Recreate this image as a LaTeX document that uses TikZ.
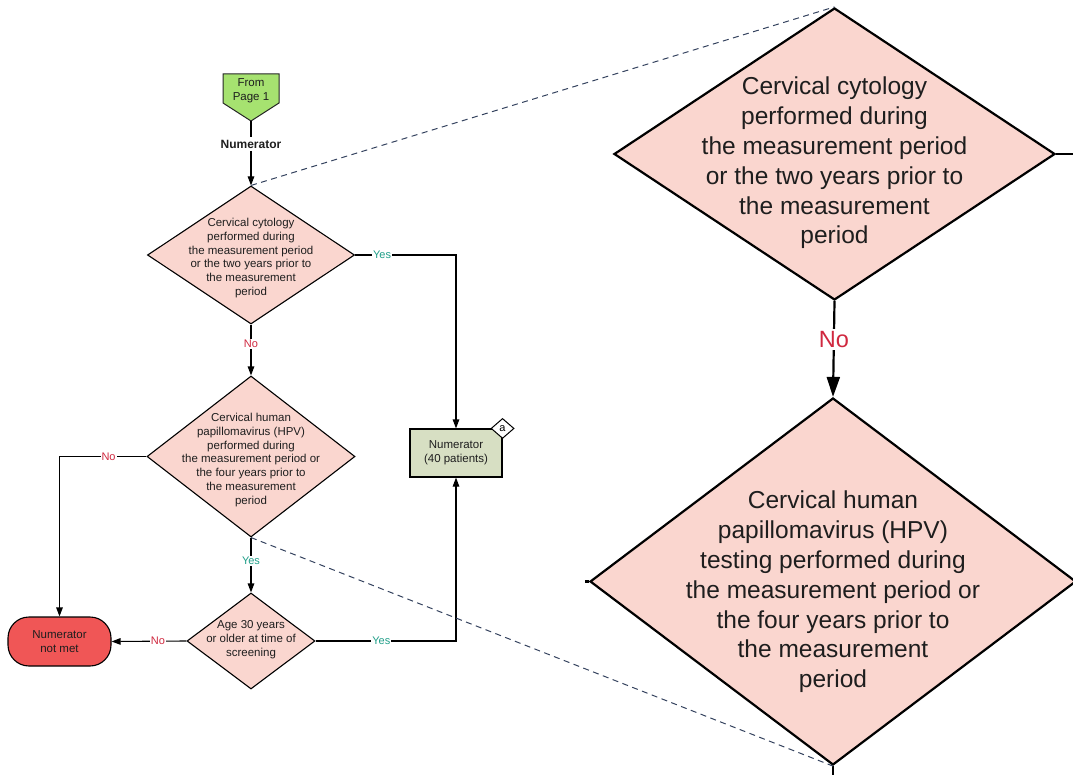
\documentclass[tikz,border=0pt]{standalone}
\usepackage{fontspec}
\setmainfont{Liberation Sans}
\usetikzlibrary{shapes.geometric,arrows.meta}

\definecolor{decfill}{HTML}{FAD6CF}
\definecolor{startgreen}{HTML}{A6E270}
\definecolor{numgreen}{HTML}{D7DFC3}
\definecolor{stopred}{HTML}{F05656}
\definecolor{yescol}{HTML}{1F9E88}
\definecolor{nocol}{HTML}{D0283F}
\definecolor{zoomline}{HTML}{34425E}
\definecolor{inktext}{HTML}{1E1E1E}

\tikzset{
  decision/.style={diamond, draw=black, fill=decfill, line width=1.1pt, inner sep=0pt},
  bigdecision/.style={diamond, draw=black, fill=decfill, line width=2.2pt, inner sep=0pt},
  smalltext/.style={font=\fontsize{11.5}{13.9}\selectfont, align=center, inner sep=0pt, text=inktext},
  bigtext/.style={font=\fontsize{24.5}{29.8}\selectfont, align=center, inner sep=0pt, text=inktext},
  link/.style={line width=1.1pt, draw=black},
  arr/.style={link, -{Triangle[length=9pt,width=6.5pt]}},
  bigarr/.style={line width=2.2pt, draw=black, -{Triangle[length=20pt,width=13pt]}},
  yeslbl/.style={fill=white, text=yescol, font=\fontsize{11}{13}\selectfont, inner sep=1pt},
  nolbl/.style={fill=white, text=nocol, font=\fontsize{11}{13}\selectfont, inner sep=1pt},
  bignolbl/.style={fill=white, text=nocol, font=\fontsize{23.5}{27}\selectfont, inner sep=2pt},
  zoomguide/.style={draw=zoomline, line width=1pt, dash pattern=on 6pt off 4.5pt},
}

\begin{document}
\begin{tikzpicture}[x=1pt, y=-1pt]
\useasboundingbox (0,0) rectangle (1073,775);

% ---------------- compact flow chart ----------------
% off-page connector
\filldraw[fill=startgreen, draw=black!85, line width=1pt]
  (223,74) -- (279,74) -- (279,103) -- (251,121) -- (223,103) -- cycle;
\node[smalltext] (from) at (251,91) {From\\Page 1};
\coordinate (fromtip) at (251,121);

\node[font=\bfseries\fontsize{12}{14}\selectfont, inner sep=2.5pt, text=inktext] (numlbl) at (251,144) {Numerator};

% decisions
\node[decision, minimum width=207pt, minimum height=138pt] (d1) at (251,255) {};
\node[smalltext] (d1t) at (251,258) {Cervical cytology\\performed during\\the measurement period\\or the two years prior to\\the measurement\\period};

\node[decision, minimum width=208pt, minimum height=161pt] (d2) at (251,456.5) {};
\node[smalltext] (d2t) at (251,460) {Cervical human\\papillomavirus (HPV)\\performed during\\the measurement period or\\the four years prior to\\the measurement\\period};

\node[decision, minimum width=128pt, minimum height=96pt] (d3) at (251,641) {};
\node[smalltext] (d3t) at (251,640) {Age 30 years\\or older at time of\\screening};

% outcomes
\node[draw=black, line width=1.1pt, fill=numgreen, minimum width=92pt, minimum height=48pt,
      smalltext] (nb) at (456,453) {Numerator\\(40 patients)};
\node[diamond, draw=black, fill=white, line width=1pt, minimum width=23pt, minimum height=20pt,
      inner sep=0pt, font=\fontsize{11}{13}\selectfont] (tag) at (nb.north east) {a};

\node[draw=black, line width=1.1pt, fill=stopred, rounded corners=21pt, minimum width=103pt,
      minimum height=49pt, smalltext] (nm) at (59.5,641.5) {Numerator\\not met};

% connectors
\draw[link] (fromtip) -- (numlbl.north);
\draw[arr] (numlbl.south) -- (d1.north);
\draw[arr] (d1.east) -| node[pos=0.134, yeslbl] {Yes} (nb.north);
\draw[arr] (d1.south) -- node[pos=0.38, nolbl] {No} (d2.north);
\draw[arr] (d2.west) -| node[pos=0.218, nolbl] {No} (nm.north);
\draw[arr] (d2.south) -- node[pos=0.43, yeslbl] {Yes} (d3.north);
\draw[arr] (d3.west) -- node[pos=0.38, nolbl] {No} (nm.east);
\draw[arr] (d3.east) -| node[pos=0.234, yeslbl] {Yes} (nb.south);

% ---------------- enlarged view ----------------
\node[bigdecision, minimum width=441pt, minimum height=292pt] (bd1) at (834.5,154) {};
\node[bigtext] (bd1t) at (834.5,163) {Cervical cytology\\performed during\\the measurement period\\or the two years prior to\\the measurement\\period};

\node[bigdecision, minimum width=486pt, minimum height=367pt] (bd2) at (833,581.5) {};
\node[bigtext] (bd2t) at (833,592) {Cervical human\\papillomavirus (HPV)\\testing performed during\\the measurement period or\\the four years prior to\\the measurement\\period};

\coordinate (bd1out) at (1076,154);
\coordinate (bd2left) at (585,581.5);
\coordinate (bd2down) at (833,778);

\draw[line width=2.2pt] (bd1.east) -- (bd1out);
\draw[bigarr] (bd1.south) -- node[pos=0.4, bignolbl] {No} (bd2.north);
\draw[line width=2.2pt] (bd2.west) -- (bd2left);
\draw[line width=2.2pt] (bd2.south) -- (bd2down);

% guides linking the compact chart to the enlarged view
\draw[zoomguide] (d1.north) -- (bd1.north);
\draw[zoomguide] (d2.south) -- (bd2.south);
\end{tikzpicture}
\end{document}
